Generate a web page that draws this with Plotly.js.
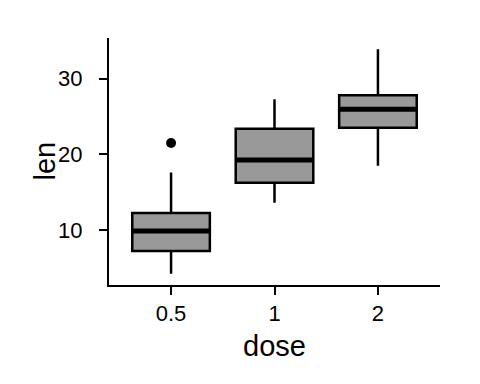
<!DOCTYPE html>
<html>
<head>
<meta charset="utf-8">
<script src="https://cdn.plot.ly/plotly-3.0.1.min.js"></script>
<style>html,body{margin:0;padding:0;background:#fff;}#chart{width:480px;height:384px;}</style>
</head>
<body>
<div id="chart"></div>
<script>
// ToothGrowth len values by dose
const doses = ["0.5", "1", "2"];
const len05 = [4.2, 11.5, 7.3, 5.8, 6.4, 10, 11.2, 11.2, 5.2, 7, 15.2, 21.5, 17.6, 9.7, 14.5, 10, 8.2, 9.4, 16.5, 9.7];
const len1 = [16.5, 16.5, 15.2, 17.3, 22.5, 17.3, 13.6, 14.5, 18.8, 15.5, 19.7, 23.3, 23.6, 26.4, 20, 25.2, 25.8, 21.2, 14.5, 27.3];
const len2 = [23.6, 18.5, 33.9, 25.5, 26.4, 32.5, 26.7, 21.5, 23.3, 29.5, 25.5, 26.4, 22.4, 24.5, 24.8, 30.9, 26.4, 27.3, 29.4, 23.0];
const yTicks = [10, 20, 30];
const xTitle = "dose";
const yTitle = "len";

const groups = [len05, len1, len2];

// R type-7 quantile
function quantile(a, p) {
  const s = a.slice().sort((x, y) => x - y);
  const h = (s.length - 1) * p;
  const lo = Math.floor(h), hi = Math.ceil(h);
  return s[lo] + (h - lo) * (s[hi] - s[lo]);
}

const stats = groups.map(g => {
  const q1 = quantile(g, 0.25), med = quantile(g, 0.5), q3 = quantile(g, 0.75);
  const iqr = q3 - q1;
  const inside = g.filter(v => v >= q1 - 1.5 * iqr && v <= q3 + 1.5 * iqr);
  const out = g.filter(v => v < q1 - 1.5 * iqr || v > q3 + 1.5 * iqr);
  return { q1, med, q3, lo: Math.min(...inside), hi: Math.max(...inside), out };
});

const boxTrace = {
  type: "box",
  x: doses,
  q1: stats.map(s => s.q1),
  median: stats.map(s => s.med),
  q3: stats.map(s => s.q3),
  lowerfence: stats.map(s => s.lo),
  upperfence: stats.map(s => s.hi),
  fillcolor: "#999999",
  line: { color: "#000000", width: 2.5 },
  whiskerwidth: 0,
  width: 0.75,
  hoverinfo: "skip",
  showlegend: false
};

const outX = [], outY = [];
stats.forEach((s, i) => s.out.forEach(v => { outX.push(doses[i]); outY.push(v); }));
const outTrace = {
  type: "scatter", mode: "markers",
  x: outX, y: outY,
  marker: { color: "#000000", size: 10 },
  hoverinfo: "skip", showlegend: false
};

const shapes = stats.map((s, i) => ({
  type: "line", xref: "x", yref: "y",
  x0: i - 0.375, x1: i + 0.375,
  y0: s.med, y1: s.med,
  line: { color: "#000000", width: 5 }
}));

const all = [].concat(...groups);
const ymin = Math.min(...all), ymax = Math.max(...all);
const pad = (ymax - ymin) * 0.05;

const font = { family: "Liberation Sans, Arial, sans-serif", color: "#000000" };

const layout = {
  width: 480, height: 384,
  margin: { l: 109, r: 40, t: 38, b: 99 },
  paper_bgcolor: "#ffffff",
  plot_bgcolor: "#ffffff",
  shapes: shapes,
  annotations: [{
    text: yTitle, textangle: -90,
    xref: "paper", yref: "paper", x: 0, y: 0.5,
    xanchor: "center", yanchor: "middle", xshift: -65,
    showarrow: false,
    font: Object.assign({ size: 29 }, font)
  }],
  xaxis: {
    type: "category",
    categoryorder: "array",
    categoryarray: doses,
    range: [-0.6, 2.6],
    showline: true, linecolor: "#000000", linewidth: 2,
    showgrid: false, zeroline: false,
    ticks: "outside", ticklen: 8, tickwidth: 2, tickcolor: "#000000",
    tickfont: Object.assign({ size: 22 }, font),
    title: { text: xTitle, font: Object.assign({ size: 29 }, font), standoff: 10 }
  },
  yaxis: {
    range: [ymin - pad, ymax + pad],
    tickvals: yTicks,
    ticktext: yTicks.map(v => String(v) + "\u00a0\u00a0"),
    showline: true, linecolor: "#000000", linewidth: 2,
    showgrid: false, zeroline: false,
    ticks: "outside", ticklen: 8, tickwidth: 2, tickcolor: "#000000",
    tickfont: Object.assign({ size: 22 }, font)
  }
};

Plotly.newPlot("chart", [boxTrace, outTrace], layout, { staticPlot: true, displayModeBar: false });
</script>
</body>
</html>
